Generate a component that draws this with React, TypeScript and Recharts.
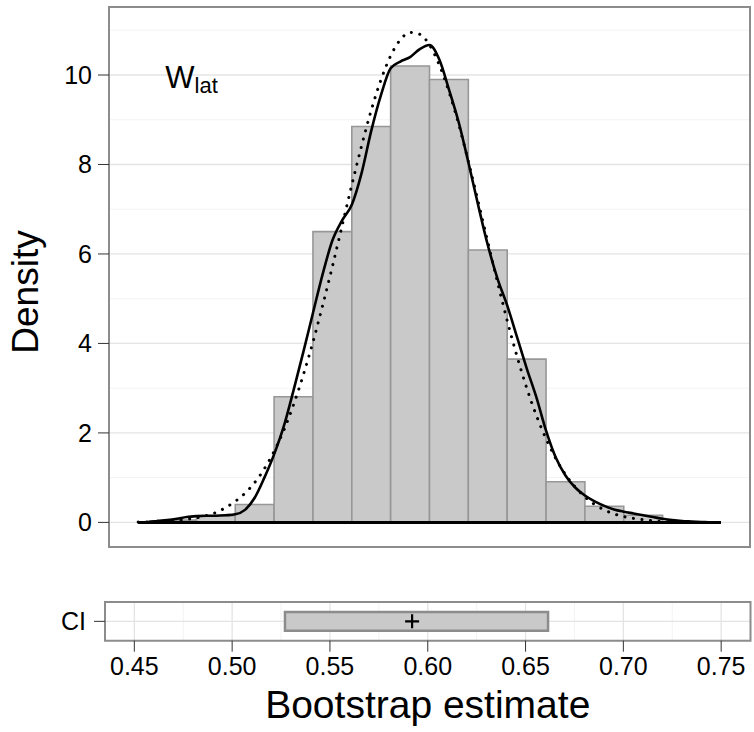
import {
  ComposedChart,
  Line,
  XAxis,
  YAxis,
  CartesianGrid,
  ReferenceArea,
  ReferenceLine,
  ReferenceDot,
  Scatter,
} from 'recharts'

// histogram of bootstrap estimates (bin lower edge, density)
const binStarts = [0.46, 0.48, 0.5, 0.52, 0.54, 0.56, 0.58, 0.6, 0.62, 0.64, 0.66, 0.68, 0.7]
const binHeights = [0.05, 0.15, 0.4, 2.81, 6.5, 8.85, 10.2, 9.9, 6.09, 3.65, 0.91, 0.36, 0.16]
const binWidth = 0.02

// x positions where the curves were read
const curveX = [
  0.45, 0.455, 0.46, 0.465, 0.47, 0.475, 0.48, 0.485, 0.49, 0.495,
  0.5, 0.505, 0.51, 0.515, 0.52, 0.525, 0.53, 0.535, 0.54, 0.545,
  0.55, 0.555, 0.56, 0.565, 0.57, 0.575, 0.58, 0.585, 0.59, 0.595,
  0.6, 0.605, 0.61, 0.615, 0.62, 0.625, 0.63, 0.635, 0.64, 0.645,
  0.65, 0.655, 0.66, 0.665, 0.67, 0.675, 0.68, 0.685, 0.69, 0.695,
  0.7, 0.705, 0.71, 0.715, 0.72, 0.725, 0.73, 0.735, 0.74, 0.745, 0.75,
]
// kernel density (solid)
const kdeY = [
  0.0, 0.01, 0.03, 0.05, 0.08, 0.12, 0.14, 0.15, 0.15, 0.16,
  0.18, 0.28, 0.55, 1.0, 1.52, 2.15, 2.95, 3.8, 4.68, 5.55,
  6.3, 6.75, 7.1, 7.8, 8.75, 9.55, 10.15, 10.3, 10.4, 10.58,
  10.67, 10.35, 9.68, 8.95, 8.05, 7.1, 6.2, 5.45, 4.85, 4.15,
  3.45, 2.8, 2.05, 1.45, 1.05, 0.78, 0.6, 0.47, 0.37, 0.29,
  0.24, 0.2, 0.16, 0.12, 0.08, 0.05, 0.03, 0.02, 0.01, 0.0, 0.0,
]
// normal approximation (dotted)
const normalY = [
  0.01, 0.01, 0.02, 0.03, 0.04, 0.07, 0.1, 0.15, 0.22, 0.33,
  0.47, 0.65, 0.89, 1.2, 1.59, 2.06, 2.63, 3.29, 4.03, 4.85,
  5.72, 6.63, 7.54, 8.41, 9.21, 9.89, 10.43, 10.79, 10.95, 10.91,
  10.67, 10.23, 9.63, 8.9, 8.07, 7.18, 6.27, 5.37, 4.51, 3.72,
  3.01, 2.39, 1.87, 1.43, 1.07, 0.79, 0.57, 0.4, 0.28, 0.19,
  0.13, 0.09, 0.06, 0.04, 0.02, 0.01, 0.01, 0.0, 0.0, 0.0, 0.0,
]

const ciLow = 0.527
const ciHigh = 0.6615
const ciEstimate = 0.592

const xTicks = [0.45, 0.5, 0.55, 0.6, 0.65, 0.7, 0.75]
const xMinor = [0.475, 0.525, 0.575, 0.625, 0.675, 0.725]
const yTicks = [0, 2, 4, 6, 8, 10]
const yMinor = [1, 3, 5, 7, 9, 11]
const xDomain = [0.435, 0.765]
const yDomain = [-0.55, 11.52]

const kdeData = curveX.map((x, i) => ({ x, y: kdeY[i] }))
const normalData = curveX.map((x, i) => ({ x, y: normalY[i] }))
const ciPoint = [{ x: ciEstimate, y: 1 }]

const font = '"Liberation Sans", Arial, Helvetica, sans-serif'
const border = '#8c8c8c'
const tickStyle = { fontSize: 25, fill: '#000', style: { fontSize: 25 } }

function YTitle(props: any) {
  const vb = props.viewBox
  const cx = vb.x + 25
  const cy = vb.y + vb.height / 2 + 15
  return (
    <text x={cx} y={cy} transform={`rotate(-90 ${cx} ${cy})`} textAnchor="middle"
      dominantBaseline="central" fontSize={37} fill="#000">Density</text>
  )
}

function XTitle(props: any) {
  const vb = props.viewBox
  return (
    <text x={vb.x + vb.width / 2} y={vb.y + 77} textAnchor="middle" fontSize={39} fill="#000">
      Bootstrap estimate
    </text>
  )
}

function PanelLabel(props: any) {
  return (
    <text x={props.cx} y={props.cy} fontSize={31} fill="#000">
      W<tspan fontSize={22} dy={5}>lat</tspan>
    </text>
  )
}

function Plus(props: any) {
  const { cx, cy } = props
  return (
    <g stroke="#000" strokeWidth={2.2}>
      <line x1={cx - 7} x2={cx + 7} y1={cy} y2={cy} />
      <line x1={cx} x2={cx} y1={cy - 7} y2={cy + 7} />
    </g>
  )
}

export default function App() {
  return (
    <div style={{ position: 'absolute', left: 0, top: 0, width: 754, height: 732, background: '#fff', fontFamily: font }}>
      <ComposedChart width={754} height={560} margin={{ top: 7, right: 4, bottom: 0, left: 0 }} style={{ fontFamily: font }}>
        <CartesianGrid stroke="#f3f3f3" strokeWidth={1} verticalValues={xMinor} horizontalValues={yMinor} />
        <CartesianGrid stroke="#e4e4e4" strokeWidth={1.3} verticalValues={xTicks} horizontalValues={yTicks} />
        <XAxis type="number" dataKey="x" domain={xDomain} allowDataOverflow ticks={xTicks} tick={false}
          tickSize={11} height={13} axisLine={false} tickLine={{ stroke: '#333' }} />
        <YAxis type="number" domain={yDomain} allowDataOverflow ticks={yTicks} width={109} tickSize={11}
          tickMargin={6} axisLine={false} tickLine={{ stroke: '#333' }}
          tick={tickStyle} label={<YTitle />} />
        {binStarts.map((b, i) => (
          <ReferenceArea key={b} x1={b} x2={b + binWidth} y1={0} y2={binHeights[i]} fill="#c9c9c9"
            fillOpacity={1} stroke="#979797" strokeWidth={1.6} ifOverflow="visible" />
        ))}
        <ReferenceArea x1={xDomain[0]} x2={xDomain[1]} y1={yDomain[0]} y2={yDomain[1]} fill="none"
          stroke={border} strokeWidth={2} ifOverflow="visible" />
        <Line data={normalData} dataKey="y" type="monotone" stroke="#000" strokeWidth={3}
          strokeDasharray="0.1 8.5" strokeLinecap="round" dot={false} isAnimationActive={false} />
        <Line data={kdeData} dataKey="y" type="monotone" stroke="#000" strokeWidth={2.6}
          dot={false} isAnimationActive={false} />
        <ReferenceLine segment={[{ x: 0.45, y: 0 }, { x: 0.75, y: 0 }]} stroke="#000" strokeWidth={3} />
        <ReferenceDot x={0.464} y={9.7} r={0} shape={<PanelLabel />} ifOverflow="visible" />
      </ComposedChart>

      <div style={{ position: 'absolute', left: 0, top: 560 }}>
        <ComposedChart width={754} height={172} margin={{ top: 42, right: 3.5, bottom: 0, left: 0 }} style={{ fontFamily: font }}>
          <CartesianGrid stroke="#f3f3f3" strokeWidth={1} verticalValues={xMinor} horizontal={false} />
          <CartesianGrid stroke="#e4e4e4" strokeWidth={1.3} verticalValues={xTicks} horizontalValues={[1]} />
          <XAxis type="number" dataKey="x" domain={xDomain} allowDataOverflow ticks={xTicks}
            tickFormatter={(v: number) => v.toFixed(2)} tickSize={11} tickMargin={6} height={91.3}
            axisLine={false} tickLine={{ stroke: '#333' }} tick={tickStyle}
            label={<XTitle />} />
          <YAxis type="number" domain={[0, 2]} allowDataOverflow ticks={[1]} tickFormatter={() => 'CI'}
            width={105} tickSize={11} tickMargin={8} axisLine={false} tickLine={{ stroke: '#333' }}
            tick={tickStyle} />
          <ReferenceArea x1={ciLow} x2={ciHigh} y1={0.52} y2={1.48} fill="#c9c9c9" fillOpacity={1}
            stroke={border} strokeWidth={2.5} ifOverflow="visible" />
          <ReferenceArea x1={xDomain[0]} x2={xDomain[1]} y1={0} y2={2} fill="none"
            stroke={border} strokeWidth={2} ifOverflow="visible" />
          <Scatter data={ciPoint} dataKey="y" shape={<Plus />} isAnimationActive={false} />
        </ComposedChart>
      </div>
    </div>
  )
}
